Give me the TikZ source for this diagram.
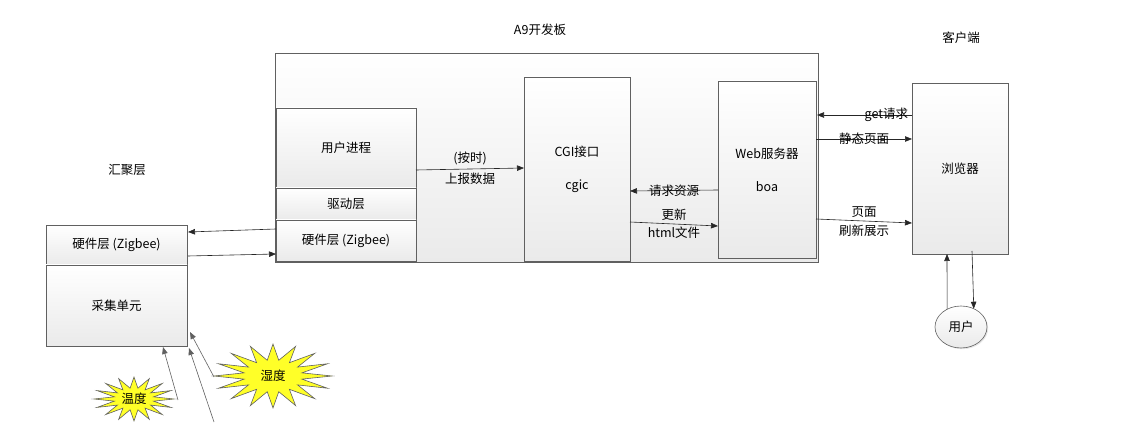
\documentclass[tikz,border=0pt]{standalone}
\usepackage{fontspec}
\setmainfont{Noto Sans CJK SC}
\usepackage{xcolor}
\usepackage{tikz}
\usetikzlibrary{positioning, arrows.meta, calc, shapes, shapes.geometric, backgrounds, shadows}
\definecolor{boxline}{RGB}{96,96,96}
\definecolor{boxlow}{RGB}{234,234,234}
\definecolor{burstyellow}{RGB}{255,255,40}

\begin{document}
\begin{tikzpicture}[x=1pt, y=-1pt, every node/.style={font=\fontsize{12.5}{14}\selectfont},
    blk/.style={draw=boxline, line width=0.6pt, top color=white, bottom color=boxlow, inner sep=0pt, outer sep=0pt, align=center,
      drop shadow={shadow xshift=1.2pt, shadow yshift=-1.2pt, opacity=0.2}},
    flow/.style={draw=black!85, line width=0.6pt, -{Triangle[length=7pt, width=5.5pt]}},
    burst/.style={draw=boxline, line width=0.6pt, fill=burstyellow, line join=miter}]
  \useasboundingbox (0,0) rectangle (1144,438);

  % A9 board
  \node[blk, minimum width=543pt, minimum height=209pt] (board) at (546.5,157.5) {};
  \node (boardlbl) at (540,30) {A9开发板};
  \node[blk, minimum width=140pt, minimum height=80pt] (userproc) at (346,148) {用户进程};
  \node[blk, minimum width=140pt, minimum height=32pt, below=0pt of userproc] (driver) {驱动层};
  \node[blk, minimum width=140pt, minimum height=41pt, below=0pt of driver] (hwboard) {硬件层 (Zigbee)};
  \node[blk, minimum width=106pt, minimum height=184pt] (cgi) at (577,169) {CGI接口\\[19pt]cgic};
  \node[blk, minimum width=98pt, minimum height=177pt] (web) at (767,169.5) {Web服务器\\[19pt]boa};

  % client
  \node (clientlbl) at (961,38) {客户端};
  \node[blk, minimum width=96pt, minimum height=171pt] (browser) at (960,168.5) {浏览器};
  \node[blk, ellipse, minimum width=52pt, minimum height=42pt] (user) at (961,327) {用户};

  % gathering layer
  \node (gatherlbl) at (127,170) {汇聚层};
  \node[blk, minimum width=141pt, minimum height=40pt] (hwleft) at (116.5,245) {硬件层 (Zigbee)};
  \node[blk, minimum width=141pt, minimum height=81pt, below=0pt of hwleft] (collect) {采集单元};

  % sensors
  \node (wendu) at (134,399) {温度};
  \node (shidu) at (273,376) {湿度};
  \begin{scope}[on background layer, shift={(wendu)}]
    \filldraw[burst] plot[variable=\k, samples=33, domain=0:32]
      ({40*cos(\k*11.25)*(1-0.5*mod(round(\k),2))}, {22*sin(\k*11.25)*(1-0.5*mod(round(\k),2))}) -- cycle;
  \end{scope}
  \begin{scope}[on background layer, shift={(shidu)}]
    \filldraw[burst] plot[variable=\k, samples=33, domain=0:32]
      ({59*cos(\k*11.25)*(1-0.5*mod(round(\k),2))}, {32*sin(\k*11.25)*(1-0.5*mod(round(\k),2))}) -- cycle;
  \end{scope}

  % connectors
  \draw[flow] ($(hwboard.west)+(0,-11.5)$) -- ($(hwleft.east)+(1,-13)$);
  \draw[flow] ($(hwleft.east)+(1,11)$) -- ($(hwboard.west)+(0,13.5)$);
  \draw[flow] ($(userproc.east)+(0,22)$) -- ($(cgi.west)+(0,-1)$)
    node[midway, above=0pt] (report1) {(按时)} node[midway, below=0pt] (report2) {上报数据};
  \draw[flow] ($(web.west)+(0,20.5)$) -- ($(cgi.east)+(0,22)$) node[midway] (reqres) {请求资源};
  \draw[flow] ($(cgi.east)+(0,53)$) -- ($(web.west)+(0,56.5)$)
    node[midway, above=0pt] (update1) {更新} node[midway, below=-1pt] (update2) {html文件};
  \draw[flow] ($(browser.west)+(0,-53.5)$) -- ($(web.east)+(1,-54.5)$) node[pos=0.27] (getreq) {get请求};
  \draw[flow] ($(web.east)+(0,-30.5)$) -- ($(browser.west)+(0,-29.5)$) node[midway] (static) {静态页面};
  \draw[flow] ($(web.east)+(0,49.5)$) -- ($(browser.west)+(0,54.5)$)
    node[midway, above=0pt] (refresh1) {页面} node[midway, below=0pt] (refresh2) {刷新展示};
  \draw[flow] (user.128) -- ($(browser.south)+(-13,0)$);
  \draw[flow] ($(browser.south)+(12,-3)$) -- (user.55);
  \draw[flow, draw=boxline] ($(wendu)+(44,1)$) -- ($(collect.south)+(46.5,1)$);
  \draw[flow, draw=boxline] ($(shidu)+(-59,46)$) -- ($(collect.south east)+(2,2)$);
  \draw[flow, draw=boxline] ($(shidu)+(-59,1)$) -- ($(collect.east)+(3,26.5)$);
\end{tikzpicture}
\end{document}
